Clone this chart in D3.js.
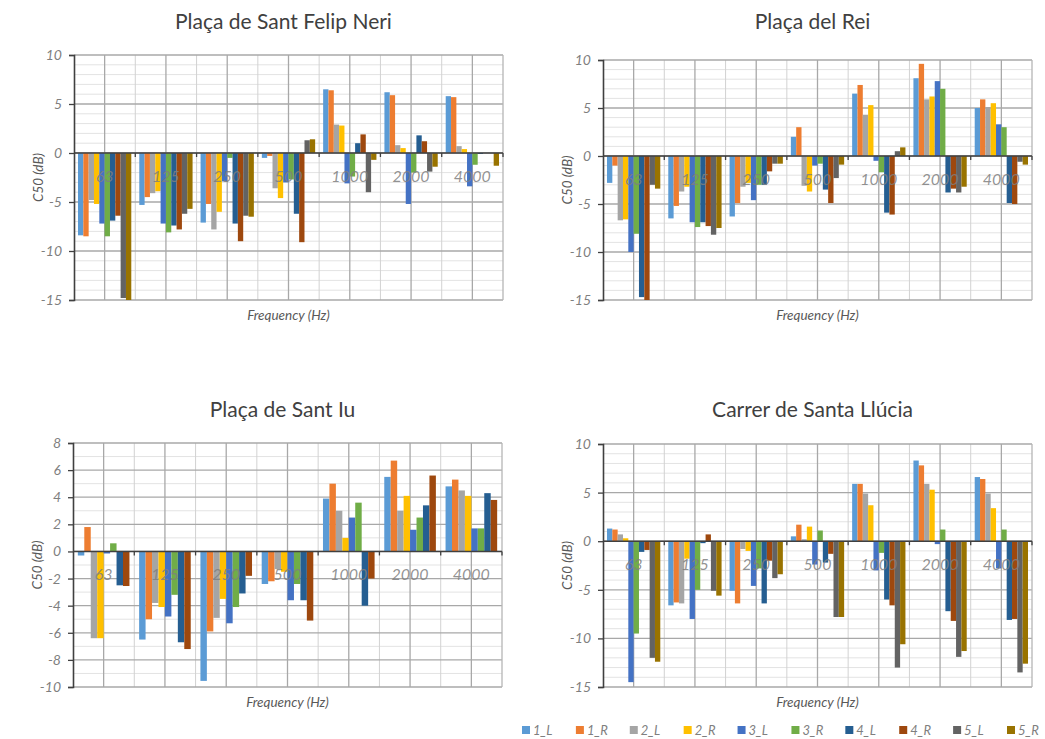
<!DOCTYPE html>
<html>
<head>
<meta charset="utf-8">
<script src="https://cdn.jsdelivr.net/npm/d3@7"></script>
<style>
  body { margin: 0; background: #ffffff; }
  text { font-family: Lato, "Open Sans", "DejaVu Sans", sans-serif; }
</style>
</head>
<body>
<svg id="chart" width="1045" height="739"></svg>
<script>
// Octave-band centre frequencies (Hz)
const frequencies = ["63", "125", "250", "500", "1000", "2000", "4000"];

// Receiver positions, left / right ear
const seriesNames = ["1_L", "1_R", "2_L", "2_R", "3_L", "3_R", "4_L", "4_R", "5_L", "5_R"];
const seriesColors = ["#5b9bd5", "#ed7d31", "#a5a5a5", "#ffc000", "#4472c4",
                      "#70ad47", "#255e91", "#9e480e", "#636363", "#997300"];

// C50 (dB): one row per frequency band, one value per position/ear
const felipNeri = [
  [-8.4, -8.5, -4.8, -5.2, -7.2, -8.5, -6.9, -6.4, -14.8, -15.0],
  [-5.3, -4.5, -4.1, -3.9, -7.2, -8.1, -7.4, -7.8, -6.2, -5.7],
  [-7.1, -5.2, -7.8, -6.0, -2.9, -0.5, -7.2, -9.0, -6.4, -6.5],
  [-0.5, -0.3, -3.6, -4.6, -3.0, -2.7, -6.2, -9.1, 1.3, 1.4],
  [6.5, 6.4, 2.9, 2.8, -3.1, -2.4, 1.0, 1.9, -4.0, -0.7],
  [6.2, 5.9, 0.8, 0.5, -5.2, -2.0, 1.8, 1.2, -1.9, -1.4],
  [5.8, 5.7, 0.7, 0.4, -3.4, -1.2, -0.1, 0.0, 0.0, -1.3]
];

const placaRei = [
  [-2.8, -1.0, -6.7, -6.6, -10.0, -8.1, -14.7, -15.0, -3.0, -3.4],
  [-6.5, -5.2, -3.7, -3.2, -6.9, -7.4, -6.9, -7.3, -8.2, -7.5],
  [-6.3, -4.9, -3.2, -2.8, -4.6, -3.0, -3.0, -1.6, -0.8, -0.8],
  [2.0, 3.0, -3.1, -3.7, -1.0, -0.8, -3.5, -4.9, -2.3, -0.9],
  [6.5, 7.4, 4.3, 5.3, -0.5, -1.7, -5.9, -6.1, 0.5, 0.9],
  [8.1, 9.6, 5.9, 6.2, 7.8, 7.0, -3.8, -3.4, -3.8, -3.2],
  [5.0, 5.9, 5.1, 5.5, 3.3, 3.0, -4.9, -5.0, -0.6, -0.9]
];

// Sant Iu was measured at four positions only
const santIu = [
  [-0.3, 1.8, -6.4, -6.4, -0.15, 0.6, -2.5, -2.55],
  [-6.5, -5.0, -3.8, -4.1, -4.8, -3.2, -6.7, -7.2],
  [-9.55, -5.9, -4.9, -3.5, -5.3, -4.1, -3.1, -1.8],
  [-2.4, -2.2, -1.3, -1.5, -3.6, -2.4, -3.6, -5.1],
  [3.9, 5.0, 3.0, 1.0, 2.5, 3.6, -4.0, -2.0],
  [5.5, 6.7, 3.0, 4.1, 1.6, 2.5, 3.4, 5.6],
  [4.8, 5.3, 4.5, 4.1, 1.7, 1.7, 4.3, 3.8]
];

const santaLlucia = [
  [1.3, 1.2, 0.7, 0.3, -14.5, -9.5, -1.1, -0.9, -12.0, -12.4],
  [-6.6, -6.3, -6.4, -1.8, -8.0, -5.0, -0.2, 0.7, -5.1, -5.6],
  [-5.1, -6.4, -0.8, -1.0, -4.6, -2.8, -6.4, -2.0, -3.8, -3.4],
  [0.5, 1.7, 0.2, 1.5, -2.4, 1.1, -2.2, -1.3, -7.8, -7.8],
  [5.9, 5.9, 4.9, 3.7, -3.0, -1.2, -6.0, -6.6, -13.0, -10.6],
  [8.3, 7.8, 5.9, 5.3, -0.3, 1.2, -7.2, -8.2, -11.9, -11.3],
  [6.6, 6.4, 4.9, 3.4, -2.8, 1.2, -8.1, -8.0, -13.5, -12.6]
];

// Y-axis tick labels
const ticksWide = [-15, -10, -5, 0, 5, 10];
const ticksIu = [-10, -8, -6, -4, -2, 0, 2, 4, 6, 8];

const panels = [
  { title: "Plaça de Sant Felip Neri", data: felipNeri, series: seriesNames,
    ticks: ticksWide, box: { l: 74, r: 503, t: 55, b: 300 }, titleY: 29, xTitleY: 320 },
  { title: "Plaça del Rei", data: placaRei, series: seriesNames,
    ticks: ticksWide, box: { l: 603, r: 1032, t: 60, b: 300 }, titleY: 29, xTitleY: 320 },
  { title: "Plaça de Sant Iu", data: santIu, series: seriesNames.slice(0, 8),
    ticks: ticksIu, box: { l: 73, r: 502, t: 443, b: 687 }, titleY: 417, xTitleY: 707 },
  { title: "Carrer de Santa Llúcia", data: santaLlucia, series: seriesNames,
    ticks: ticksWide, box: { l: 603, r: 1032, t: 444, b: 687 }, titleY: 417, xTitleY: 707 }
];

const color = d3.scaleOrdinal().domain(seriesNames).range(seriesColors);
const svg = d3.select("#chart");

panels.forEach((p, pi) => {
  const { l, r, t, b } = p.box;
  const ext = d3.extent(p.ticks);
  const y = d3.scaleLinear().domain(ext).range([b, t]);
  const x0 = d3.scaleBand().domain(frequencies).range([l, r]);
  // Excel-style 150% gap: 0.75 bar width on either side of each cluster
  const x1 = d3.scaleBand().domain(p.series).range([0, x0.bandwidth()])
    .paddingInner(0).paddingOuter(0.75);

  const g = svg.append("g");

  // minor horizontal grid (every 1 dB)
  const minor = d3.range(ext[0], ext[1] + 0.001, 1).filter(v => !p.ticks.includes(v));
  g.selectAll(".hmin").data(minor).join("line")
    .attr("x1", l).attr("x2", r).attr("y1", d => y(d)).attr("y2", d => y(d))
    .attr("stroke", "#e3e3e3").attr("stroke-width", 1);

  // vertical grid: light at band edges, darker at band centres
  g.selectAll(".vedge").data(frequencies.slice(1)).join("line")
    .attr("x1", d => x0(d)).attr("x2", d => x0(d)).attr("y1", t).attr("y2", b)
    .attr("stroke", "#d2d2d2").attr("stroke-width", 1);
  g.selectAll(".vmid").data(frequencies).join("line")
    .attr("x1", d => x0(d) + x0.bandwidth() / 2).attr("x2", d => x0(d) + x0.bandwidth() / 2)
    .attr("y1", t).attr("y2", b)
    .attr("stroke", "#a8a8a8").attr("stroke-width", 1.3);

  // major horizontal grid
  g.selectAll(".hmaj").data(p.ticks).join("line")
    .attr("x1", l).attr("x2", r).attr("y1", d => y(d)).attr("y2", d => y(d))
    .attr("stroke", "#a8a8a8").attr("stroke-width", 1.3);

  // right border of plot area
  g.append("line").attr("x1", r).attr("x2", r).attr("y1", t).attr("y2", b)
    .attr("stroke", "#b5b5b5").attr("stroke-width", 1.3);

  // bars
  const clipId = "clip" + pi;
  svg.append("clipPath").attr("id", clipId).append("rect")
    .attr("x", l).attr("y", t).attr("width", r - l).attr("height", b - t);

  const bars = g.append("g").attr("clip-path", `url(#${clipId})`);
  bars.selectAll("g").data(p.data).join("g")
    .attr("transform", (row, i) => `translate(${x0(frequencies[i])},0)`)
    .selectAll("rect")
    .data(row => row.map((v, j) => ({ key: p.series[j], value: v })))
    .join("rect")
    .attr("x", d => x1(d.key))
    .attr("width", x1.bandwidth())
    .attr("y", d => y(Math.max(0, d.value)))
    .attr("height", d => Math.abs(y(d.value) - y(0)))
    .attr("fill", d => color(d.key));

  // zero line with outward ticks at band edges
  g.append("line").attr("x1", l).attr("x2", r).attr("y1", y(0)).attr("y2", y(0))
    .attr("stroke", "#404040").attr("stroke-width", 1.6);
  g.selectAll(".xtick").data(frequencies.slice(1).concat(["end"])).join("line")
    .attr("x1", d => d === "end" ? r : x0(d)).attr("x2", d => d === "end" ? r : x0(d))
    .attr("y1", y(0)).attr("y2", y(0) + 4)
    .attr("stroke", "#404040").attr("stroke-width", 1.3);

  // y axis (plain hyphen for negative labels)
  const yAxis = d3.axisLeft(y).tickValues(p.ticks).tickSize(5).tickPadding(7)
    .tickFormat(d => String(d));
  const ya = g.append("g").attr("transform", `translate(${l},0)`).call(yAxis);
  ya.select(".domain").attr("stroke", "#404040").attr("stroke-width", 1.6);
  ya.selectAll(".tick line").attr("stroke", "#404040").attr("stroke-width", 1.3);
  ya.selectAll(".tick text")
    .attr("fill", "#7f7f7f").style("font-size", "14px").style("font-style", "italic")
    .style("font-family", "Lato, 'Open Sans', sans-serif");

  // frequency labels just under the zero line
  g.selectAll(".flabel").data(frequencies).join("text")
    .attr("x", d => x0(d) + x0.bandwidth() / 2)
    .attr("y", y(0) + 29)
    .attr("text-anchor", "middle")
    .attr("fill", "#7f7f7f").attr("fill-opacity", 0.85)
    .style("font-size", "16px").style("font-style", "italic")
    .text(d => d);

  // titles
  g.append("text").attr("x", (l + r) / 2 - 5).attr("y", p.titleY)
    .attr("text-anchor", "middle").attr("fill", "#404040")
    .style("font-size", "21px").text(p.title);

  g.append("text").attr("x", (l + r) / 2).attr("y", p.xTitleY)
    .attr("text-anchor", "middle").attr("fill", "#595959")
    .style("font-size", "13.5px").style("font-style", "italic")
    .text("Frequency (Hz)");

  g.append("text")
    .attr("transform", `translate(${l - 31},${(t + b) / 2}) rotate(-90)`)
    .attr("text-anchor", "middle").attr("fill", "#595959")
    .style("font-size", "13.5px").style("font-style", "italic")
    .text("C50 (dB)");
});

// shared legend
const legend = svg.append("g").attr("transform", "translate(522,730)");
const lx = d3.scalePoint().domain(seriesNames).range([0, 485]);
const item = legend.selectAll("g").data(seriesNames).join("g")
  .attr("transform", d => `translate(${lx(d)},0)`);
item.append("rect").attr("x", 0).attr("y", -4).attr("width", 8).attr("height", 8)
  .attr("fill", d => color(d));
item.append("text").attr("x", 11).attr("y", 4.5)
  .attr("fill", "#7f7f7f").style("font-size", "13px").style("font-style", "italic")
  .text(d => d);
</script>
</body>
</html>
